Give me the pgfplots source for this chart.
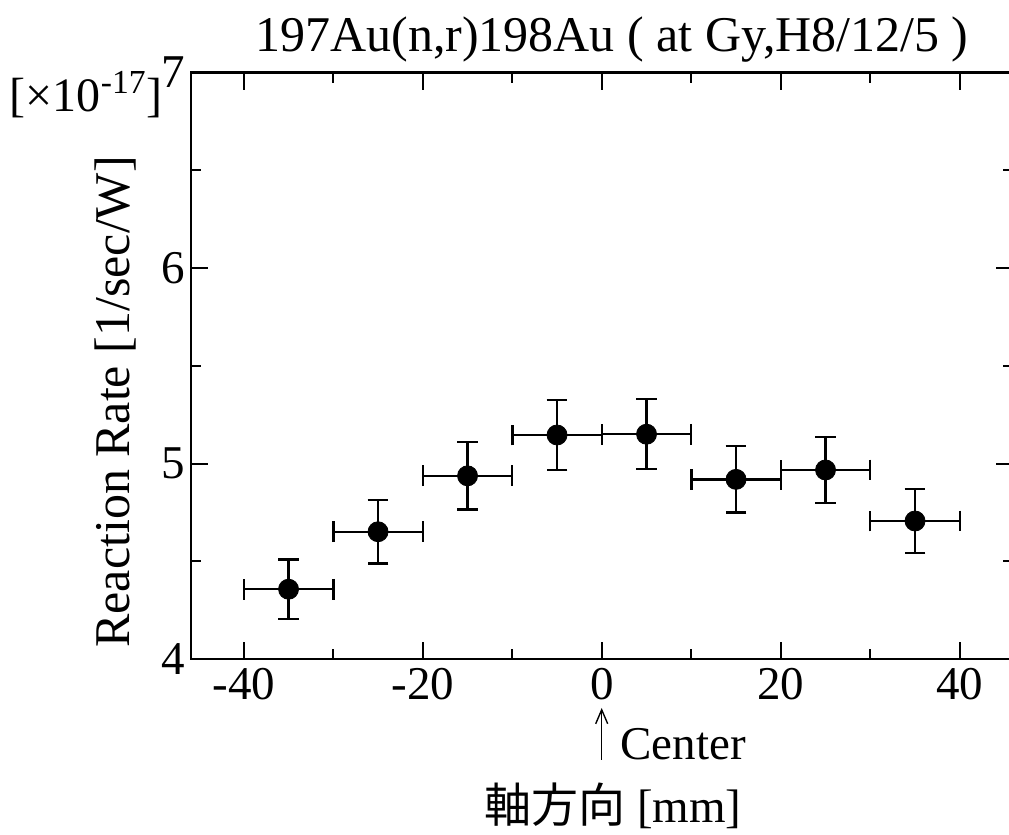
\documentclass[border=0pt]{standalone}
\usepackage{pgfplots}
\pgfplotsset{compat=1.18}
\usetikzlibrary{arrows.meta}
\usepackage{fontspec}
\setmainfont{Liberation Serif}
\newfontfamily\cjk{Noto Sans CJK JP}
\begin{document}
\begin{tikzpicture}
\begin{axis}[
  at={(0,0)}, anchor=south west,
  scale only axis,
  width=410.8pt, height=293.2pt,
  xmin=-45.9, xmax=45.9,
  ymin=4, ymax=7,
  xtick={-40,-20,0,20,40},
  xticklabels={-40,-20,0,20,40},
  minor x tick num=1,
  ytick={4,5,6,7},
  yticklabels={4,5,6,7},
  minor y tick num=1,
  tick align=inside,
  major tick length=8.5pt,
  minor tick length=5pt,
  every tick/.style={black, line width=1pt},
  axis line style={line width=1.2pt},
  tick label style={font=\fontsize{23.5}{28}\selectfont, inner sep=0pt},
  xticklabel style={yshift=-4.5pt},
  yticklabel style={xshift=-3pt},
  clip=false,
]
\addplot+[only marks, mark=*, mark size=5pt, black, mark options={fill=black, draw=black},
  error bars/.cd, x dir=both, x explicit, y dir=both, y explicit,
  error bar style={line width=1.2pt, black},
  error mark options={rotate=90, mark size=5.2pt, line width=1.2pt, black}]
  table[x=x, y=y, x error=ex, y error=ey] {
x y ex ey
-35 4.357 5 0.153
-25 4.651 5 0.163
-15 4.937 5 0.172
-5 5.146 5 0.178
5 5.150 5 0.179
15 4.919 5 0.170
25 4.967 5 0.170
35 4.706 5 0.165
};
\end{axis}
\node[anchor=base, inner sep=0pt, font=\fontsize{25}{30}\selectfont] at (210.5pt,303.5pt) {197Au(n,r)198Au ( at Gy,H8/12/5 )};
\node[anchor=base east, inner sep=0pt, font=\fontsize{24}{28}\selectfont] at (-14pt,273.5pt) {[×10\textsuperscript{-17}]};
\node[rotate=90, anchor=base, inner sep=0pt, font=\fontsize{25}{30}\selectfont] at (-30.5pt,128.5pt) {Reaction Rate [1/sec/W]};
\draw[line width=0.7pt, -{Straight Barb[length=7pt, width=6pt]}] (205.35pt,-50.5pt) -- (205.35pt,-24.5pt);
\node[anchor=base west, inner sep=0pt, font=\fontsize{23.5}{28}\selectfont] at (214.5pt,-50.5pt) {Center};
\node[anchor=base, inner sep=0pt, font=\fontsize{23.5}{28}\selectfont] at (211pt,-82pt) {{\cjk 軸方向} [mm]};
\pgfresetboundingbox
\useasboundingbox (-95.5pt,-88pt) rectangle (409pt,329.5pt);
\end{tikzpicture}
\end{document}
